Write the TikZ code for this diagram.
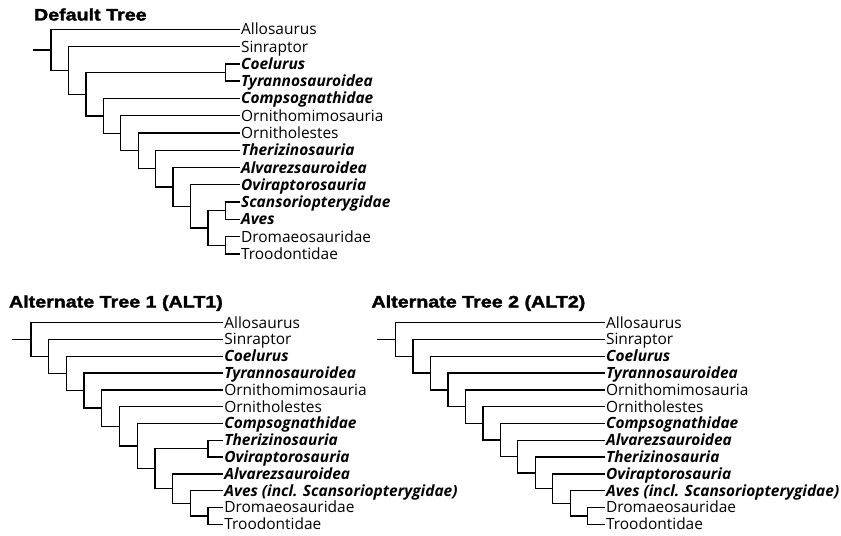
\documentclass[tikz,border=0pt]{standalone}
\usepackage{fontspec}
\setmainfont{Open Sans}
\newfontfamily\titlefont[FakeBold=2,FakeStretch=1.18]{Liberation Sans Bold}
\usetikzlibrary{calc}
\newcommand\tipnode[5]{%
  \coordinate (#1) at (#2,#3);
  \node[#4] (#1l) at (#1) {#5};}
\newcommand\inode[4]{%
  \coordinate (#1m) at ($(#3)!0.5!(#4)$);
  \coordinate (#1x) at (#2,0);
  \coordinate (#1) at (#1x |- #1m);
  \draw[br] (#3) -| (#1) |- (#4);}
\newcommand\stem[2]{%
  \coordinate (#1sx) at (#2,0);
  \coordinate (#1s) at (#1sx |- #1);
  \draw[br] (#1s) -- (#1);}
\begin{document}
\begin{tikzpicture}[x=0.75pt,y=-0.75pt,
  br/.style={line width=1pt, line join=miter},
  lbl/.style={anchor=base west, inner sep=0pt, outer sep=0pt, xshift=0.8pt, yshift=-4.1pt,
    font=\fontsize{11.6}{13}\selectfont},
  bi/.style={lbl, font=\fontsize{11.6}{13}\selectfont\bfseries\itshape},
  ttl/.style={anchor=base west, inner sep=0pt, outer sep=0pt,
    font=\titlefont\fontsize{12.5}{14}\selectfont}]
\path[fill=white] (0,0) rectangle (841,535);
\useasboundingbox (0,0) rectangle (841,535);

% ---------- Default tree ----------
\node[ttl] (ttlD) at (34,20.5) {Default Tree};
\tipnode{Dt1}{240}{29.3}{lbl}{Allosaurus}
\tipnode{Dt2}{240}{46.58}{lbl}{Sinraptor}
\tipnode{Dt3}{240}{63.86}{bi}{Coelurus}
\tipnode{Dt4}{240}{81.14}{bi}{Tyrannosauroidea}
\tipnode{Dt5}{240}{98.42}{bi}{Compsognathidae}
\tipnode{Dt6}{240}{115.7}{lbl}{Ornithomimosauria}
\tipnode{Dt7}{240}{132.98}{lbl}{Ornitholestes}
\tipnode{Dt8}{240}{150.26}{bi}{Therizinosauria}
\tipnode{Dt9}{240}{167.54}{bi}{Alvarezsauroidea}
\tipnode{Dt10}{240}{184.82}{bi}{Oviraptorosauria}
\tipnode{Dt11}{240}{202.1}{bi}{Scansoriopterygidae}
\tipnode{Dt12}{240}{219.38}{bi}{Aves}
\tipnode{Dt13}{240}{236.66}{lbl}{Dromaeosauridae}
\tipnode{Dt14}{240}{253.94}{lbl}{Troodontidae}
\inode{Dn13}{225.5}{Dt11}{Dt12}
\inode{Dn14}{225.5}{Dt13}{Dt14}
\inode{Dn12}{208.05}{Dn13}{Dn14}
\inode{Dn11}{190.6}{Dt10}{Dn12}
\inode{Dn10}{173.15}{Dt9}{Dn11}
\inode{Dn9}{155.7}{Dt8}{Dn10}
\inode{Dn8}{138.25}{Dt7}{Dn9}
\inode{Dn7}{120.8}{Dt6}{Dn8}
\inode{Dn6}{103.35}{Dt5}{Dn7}
\inode{Dn5}{225.5}{Dt3}{Dt4}
\inode{Dn4}{85.9}{Dn5}{Dn6}
\inode{Dn3}{68.45}{Dt2}{Dn4}
\inode{Dn2}{51}{Dt1}{Dn3}
\stem{Dn2}{33.3}

% ---------- Alternate tree 1 ----------
\node[ttl] (ttlA) at (9,307.5) {Alternate Tree 1 (ALT1)};
\tipnode{At1}{223.3}{322.7}{lbl}{Allosaurus}
\tipnode{At2}{223.3}{339.5}{lbl}{Sinraptor}
\tipnode{At3}{223.3}{356.3}{bi}{Coelurus}
\tipnode{At4}{223.3}{373.1}{bi}{Tyrannosauroidea}
\tipnode{At5}{223.3}{389.9}{lbl}{Ornithomimosauria}
\tipnode{At6}{223.3}{406.7}{lbl}{Ornitholestes}
\tipnode{At7}{223.3}{423.5}{bi}{Compsognathidae}
\tipnode{At8}{223.3}{440.3}{bi}{Therizinosauria}
\tipnode{At9}{223.3}{457.1}{bi}{Oviraptorosauria}
\tipnode{At10}{223.3}{473.9}{bi}{Alvarezsauroidea}
\tipnode{At11}{223.3}{490.7}{bi}{Aves (incl. Scansoriopterygidae)}
\tipnode{At12}{223.3}{507.5}{lbl}{Dromaeosauridae}
\tipnode{At13}{223.3}{524.3}{lbl}{Troodontidae}
\inode{An10}{208}{At12}{At13}
\inode{An9}{190.3}{At11}{An10}
\inode{An8}{172.6}{At10}{An9}
\inode{AnTO}{208}{At8}{At9}
\inode{An7}{154.9}{AnTO}{An8}
\inode{An6}{137.2}{At7}{An7}
\inode{An5}{119.5}{At6}{An6}
\inode{An4}{101.8}{At5}{An5}
\inode{An3}{84.1}{At4}{An4}
\inode{An2}{66.4}{At3}{An3}
\inode{An1}{48.7}{At2}{An2}
\inode{An0}{31}{At1}{An1}
\stem{An0}{12.3}

% ---------- Alternate tree 2 ----------
\node[ttl] (ttlB) at (371.5,307.5) {Alternate Tree 2 (ALT2)};
\tipnode{Bt1}{605}{322.7}{lbl}{Allosaurus}
\tipnode{Bt2}{605}{339.5}{lbl}{Sinraptor}
\tipnode{Bt3}{605}{356.3}{bi}{Coelurus}
\tipnode{Bt4}{605}{373.1}{bi}{Tyrannosauroidea}
\tipnode{Bt5}{605}{389.9}{lbl}{Ornithomimosauria}
\tipnode{Bt6}{605}{406.7}{lbl}{Ornitholestes}
\tipnode{Bt7}{605}{423.5}{bi}{Compsognathidae}
\tipnode{Bt8}{605}{440.3}{bi}{Alvarezsauroidea}
\tipnode{Bt9}{605}{457.1}{bi}{Therizinosauria}
\tipnode{Bt10}{605}{473.9}{bi}{Oviraptorosauria}
\tipnode{Bt11}{605}{490.7}{bi}{Aves (incl. Scansoriopterygidae)}
\tipnode{Bt12}{605}{507.5}{lbl}{Dromaeosauridae}
\tipnode{Bt13}{605}{524.3}{lbl}{Troodontidae}
\inode{Bn11}{587.67}{Bt12}{Bt13}
\inode{Bn10}{570.2}{Bt11}{Bn11}
\inode{Bn9}{552.73}{Bt10}{Bn10}
\inode{Bn8}{535.26}{Bt9}{Bn9}
\inode{Bn7}{517.79}{Bt8}{Bn8}
\inode{Bn6}{500.32}{Bt7}{Bn7}
\inode{Bn5}{482.85}{Bt6}{Bn6}
\inode{Bn4}{465.38}{Bt5}{Bn5}
\inode{Bn3}{447.91}{Bt4}{Bn4}
\inode{Bn2}{430.44}{Bt3}{Bn3}
\inode{Bn1}{412.97}{Bt2}{Bn2}
\inode{Bn0}{395.5}{Bt1}{Bn1}
\stem{Bn0}{377}
\end{tikzpicture}
\end{document}
